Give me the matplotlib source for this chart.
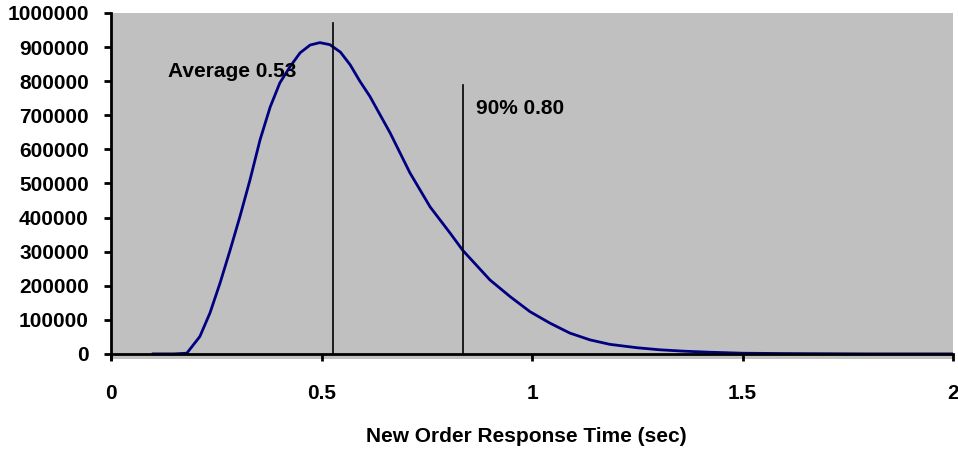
import matplotlib
matplotlib.use("Agg")
from matplotlib import pyplot as plt

plt.rcParams['font.family'] = ['Liberation Sans', 'DejaVu Sans']
plt.rcParams['font.weight'] = 'bold'

# Response time distribution (sec -> count)
resp_time = [0.10, 0.15, 0.18, 0.211, 0.235, 0.259, 0.283, 0.306, 0.330, 0.354,
             0.378, 0.401, 0.425, 0.449, 0.473, 0.496, 0.52, 0.545, 0.568, 0.591,
             0.615, 0.663, 0.71, 0.758, 0.805, 0.836, 0.90, 0.948,
             0.995, 1.043, 1.09, 1.138, 1.185, 1.25, 1.304, 1.36, 1.42, 1.50,
             1.60, 1.80, 2.00]
resp_count = [0, 0, 2000, 51000, 120000, 208000, 305000, 402000, 510000, 628000,
              724000, 795000, 842000, 883000, 906000, 913000, 907000, 885000, 848000, 800000,
              755000, 648000, 531000, 431000, 355000, 303000, 217000, 168000,
              124000, 90000, 61000, 41000, 28000, 18000, 12000, 8000, 5000, 2000,
              1000, 0, 0]

# Marker lines: x position, height, label
avg_x, avg_top, avg_label = 0.527, 971000, "Average 0.53"
p90_x, p90_top, p90_label = 0.836, 789000, "90% 0.80"

x_ticks = [0, 0.5, 1, 1.5, 2]
x_tick_labels = ["0", "0.5", "1", "1.5", "2"]
y_ticks = [0, 100000, 200000, 300000, 400000, 500000, 600000, 700000, 800000, 900000, 1000000]
y_tick_labels = [str(v) for v in y_ticks]

fig = plt.figure(figsize=(9.58, 4.5), dpi=100)
ax = fig.add_axes([0.1159, 0.2022, 0.8789, 0.769])
ax.set_facecolor('#c0c0c0')

ax.plot(resp_time, resp_count, color='#000080', lw=2)
ax.plot([avg_x, avg_x], [0, avg_top], color='black', lw=1.2)
ax.plot([p90_x, p90_x], [0, p90_top], color='black', lw=1.2)
ax.text(0.135, 827000, avg_label, fontsize=15, fontweight='bold', va='center', ha='left')
ax.text(0.867, 721000, p90_label, fontsize=15, fontweight='bold', va='center', ha='left')

ax.set_xlim(0, 2)
ax.set_ylim(-15000, 1000000)
ax.spines['bottom'].set_position(('data', 0))
ax.spines['bottom'].set_linewidth(2)
ax.spines['left'].set_linewidth(2)
ax.spines['top'].set_visible(False)
ax.spines['right'].set_visible(False)

ax.set_xticks(x_ticks)
ax.set_xticklabels(x_tick_labels)
ax.set_yticks(y_ticks)
ax.set_yticklabels(y_tick_labels)
ax.tick_params(axis='x', direction='out', length=5, width=2, pad=17, labelsize=15)
ax.tick_params(axis='y', direction='out', length=5, width=2, pad=11, labelsize=15)
for lab in ax.get_xticklabels() + ax.get_yticklabels():
    lab.set_fontweight('bold')

fig.text(0.549, 0.029, "New Order Response Time (sec)", fontsize=15, fontweight='bold',
         ha='center', va='center')

fig.savefig("out.png", dpi=100)
